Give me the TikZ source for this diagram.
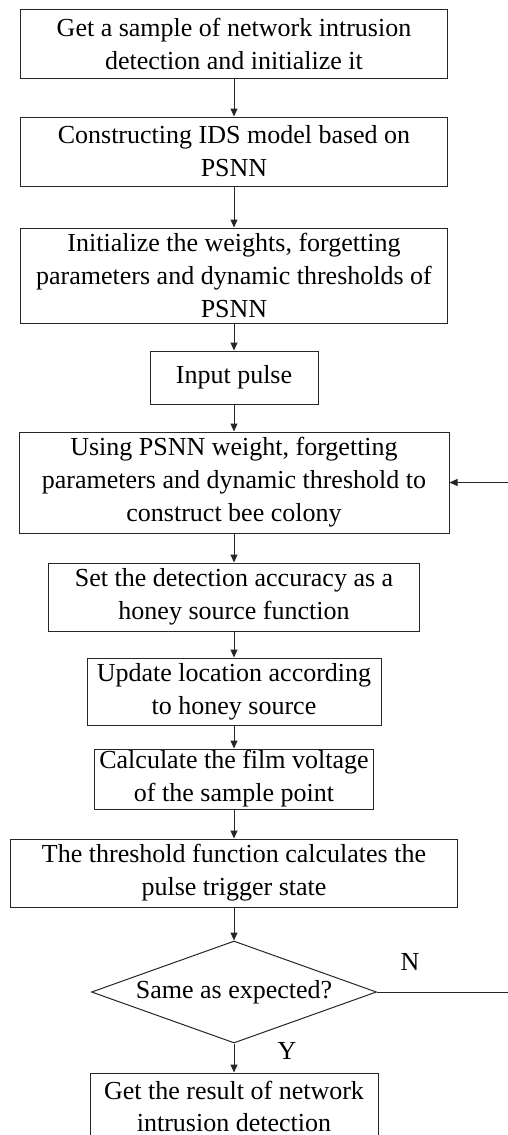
\documentclass[tikz,border=0pt]{standalone}
\usepackage{fontspec}
\setmainfont{Liberation Serif}
\usetikzlibrary{arrows.meta,shapes.geometric}
\begin{document}
\begin{tikzpicture}[x=1pt,y=-1pt,
  box/.style={draw=black!85,line width=1pt,rectangle,inner sep=0pt,align=center,
    font=\fontsize{26}{33}\selectfont},
  dia/.style={draw=black!85,line width=1pt,diamond,aspect=2.8,inner sep=0pt,align=center,
    font=\fontsize{26}{33}\selectfont},
  lbl/.style={font=\fontsize{26}{30}\selectfont,inner sep=0pt},
  arr/.style={draw=black!85,line width=1pt,-{Triangle[length=8pt,width=7pt]}}]
\useasboundingbox[fill=white] (0,0) rectangle (507,1135);
\node[box,minimum width=427pt,minimum height=69pt] (b1) at (234,43.5)
  {Get a sample of network intrusion\\detection and initialize it};
\node[box,minimum width=427pt,minimum height=69pt] (b2) at (234,151.5)
  {Constructing IDS model based on\\PSNN};
\node[box,minimum width=427pt,minimum height=95pt] (b3) at (234,275.5)
  {Initialize the weights, forgetting\\parameters and dynamic thresholds of\\PSNN};
\node[box,minimum width=168pt,minimum height=53pt] (b4) at (234,377.5)
  {Input pulse};
\node[box,minimum width=430pt,minimum height=101pt] (b5) at (234,482.5)
  {Using PSNN weight, forgetting\\parameters and dynamic threshold to\\construct bee colony};
\node[box,minimum width=371pt,minimum height=68pt] (b6) at (234,597)
  {Set the detection accuracy as a\\honey source function};
\node[box,minimum width=294pt,minimum height=67pt] (b7) at (234,691.5)
  {Update location according\\to honey source};
\node[box,minimum width=279pt,minimum height=60pt] (b8) at (234,779)
  {Calculate the film voltage\\of the sample point};
\node[box,minimum width=447pt,minimum height=68pt] (b9) at (234,873)
  {The threshold function calculates the\\pulse trigger state};
\node[dia,minimum width=285pt,minimum height=102pt] (d) at (234,992)
  {Same as expected?};
\node[box,minimum width=288pt,minimum height=66pt,
  font=\fontsize{26}{32}\selectfont] (b10) at (234,1106)
  {Get the result of network\\intrusion detection};
\draw[draw=black!85,line width=1pt] (b10.south west) -- ++(0,10) (b10.south east) -- ++(0,10);
\node[lbl] (n) at (410,962) {N};
\node[lbl] (y) at (287,1051) {Y};
\coordinate (fb) at (510,992);
\draw[arr] (b1.south) -- (b2.north);
\draw[arr] (b2.south) -- (b3.north);
\draw[arr] (b3.south) -- (b4.north);
\draw[arr] (b4.south) -- (b5.north);
\draw[arr] (b5.south) -- (b6.north);
\draw[arr] (b6.south) -- (b7.north);
\draw[arr] (b7.south) -- (b8.north);
\draw[arr] (b8.south) -- (b9.north);
\draw[arr] (b9.south) -- (d.north);
\draw[arr] (d.south) -- (b10.north);
\draw[arr] (d.east) -- (fb) |- (b5.east);
\end{tikzpicture}
\end{document}
